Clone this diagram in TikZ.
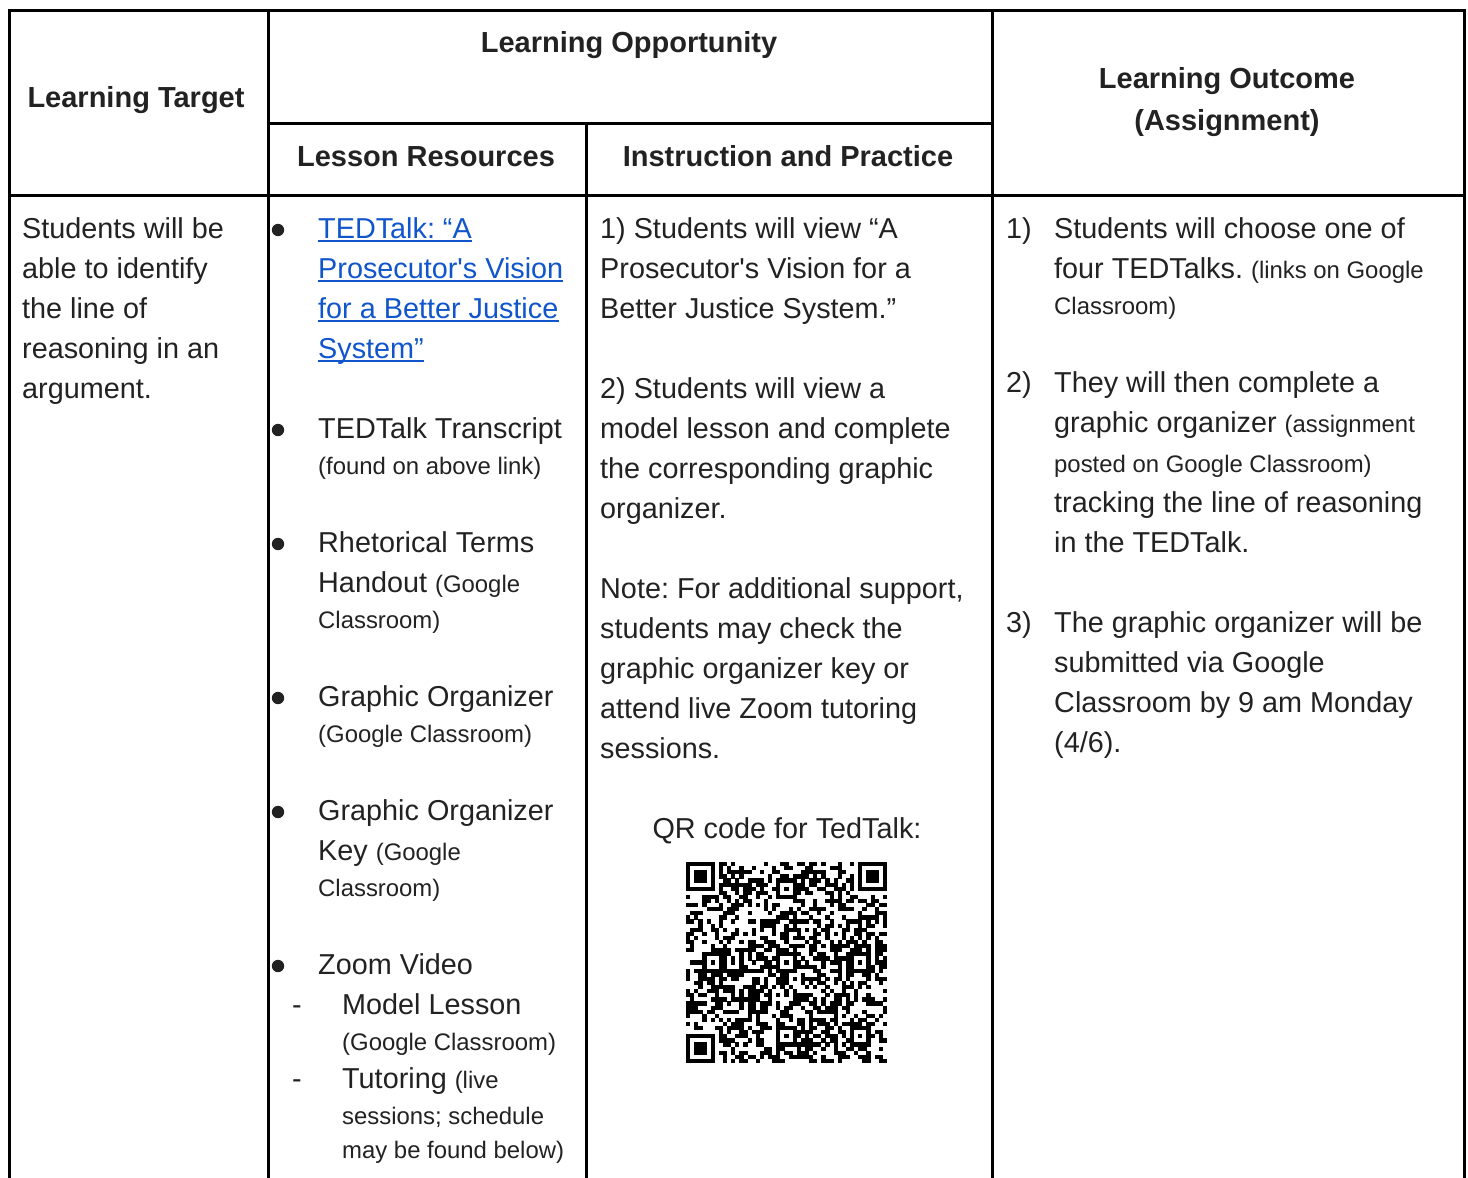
\documentclass[tikz,border=0pt]{standalone}
\usepackage{fontspec}
\setmainfont{Liberation Sans}
\definecolor{txt}{HTML}{222222}
\definecolor{linkblue}{HTML}{1155CC}
\newcommand{\sm}[1]{{\fontsize{23.9}{28}\selectfont #1}}

\begin{document}
\frenchspacing
\begin{tikzpicture}[x=1pt,y=-1pt,
            rule/.style={line width=3pt,black,line join=miter},
            head/.style={anchor=base,inner sep=0pt,
                font=\bfseries\fontsize{29}{34}\selectfont,text=txt},
            body/.style={anchor=base west,inner sep=0pt,
                font=\fontsize{28.8}{34}\selectfont,text=txt},
            note/.style={body,font=\fontsize{23.9}{28}\selectfont},
            link/.style={body,text=linkblue},
            qr/.style={fill=black}]
            \useasboundingbox (0,0) rectangle (1468,1178);
            \fill[white] (0,0) rectangle (1468,1178);

            % table rules
            \draw[rule] (9,1178) -- (9,10) -- (1464,10) -- (1464,1178);
            \draw[rule] (268,10) -- (268,1178);
            \draw[rule] (992,10) -- (992,1178);
            \draw[rule] (586,123) -- (586,1178);
            \draw[rule] (268,123) -- (992,123);
            \draw[rule] (9,195) -- (1464,195);

            % header
            \node[head] (target) at (136,107) {Learning Target};
            \node[head] (opportunity) at (629,52) {Learning Opportunity};
            \node[head] (resources) at (426,166) {Lesson Resources};
            \node[head] (practice) at (788,166) {Instruction and Practice};
            \node[head] (outcome) at (1227,88) {Learning Outcome};
            \node[head] (assignment) at (1227,130) {(Assignment)};

            % learning target
            \node[body] (tgt1) at (22,238) {Students will be};
            \node[body] (tgt2) at (22,278) {able to identify};
            \node[body] (tgt3) at (22,318) {the line of};
            \node[body] (tgt4) at (22,358) {reasoning in an};
            \node[body] (tgt5) at (22,398) {argument.};

            % lesson resources
            \foreach \y in {230,430,544,698,812,966}
                \fill[txt] (278,\y) circle (6.2);
            \node[link] (ted1) at (318,238) {TEDTalk: “A};
            \node[link] (ted2) at (318,278) {Prosecutor\textquotesingle s Vision};
            \node[link] (ted3) at (318,318) {for a Better Justice};
            \node[link] (ted4) at (318,358) {System”};
            \foreach \n in {ted1,ted2,ted3,ted4}
                \draw[linkblue,line width=1.6pt] ([yshift=-3pt]\n.base west) -- ([yshift=-3pt]\n.base east);
            \node[body] (res1) at (318,438) {TEDTalk Transcript};
            \node[note] (res2) at (318,474) {(found on above link)};
            \node[body] (res3) at (318,552) {Rhetorical Terms};
            \node[body] (res4) at (318,592) {Handout \sm{(Google}};
            \node[note] (res5) at (318,628) {Classroom)};
            \node[body] (res6) at (318,706) {Graphic Organizer};
            \node[note] (res7) at (318,742) {(Google Classroom)};
            \node[body] (res8) at (318,820) {Graphic Organizer};
            \node[body] (res9) at (318,860) {Key \sm{(Google}};
            \node[note] (res10) at (318,896) {Classroom)};
            \node[body] (res11) at (318,974) {Zoom Video};
            \node[body] (dash1) at (292,1014) {-};
            \node[body] (res12) at (342,1014) {Model Lesson};
            \node[note] (res13) at (342,1050) {(Google Classroom)};
            \node[body] (dash2) at (292,1088) {-};
            \node[body] (res14) at (342,1088) {Tutoring \sm{(live}};
            \node[note] (res15) at (342,1124) {sessions; schedule};
            \node[note] (res16) at (342,1158) {may be found below)};

            % instruction and practice
            \node[body] (ins1) at (600,238) {1) Students will view “A};
            \node[body] (ins2) at (600,278) {Prosecutor\textquotesingle s Vision for a};
            \node[body] (ins3) at (600,318) {Better Justice System.”};
            \node[body] (ins4) at (600,398) {2) Students will view a};
            \node[body] (ins5) at (600,438) {model lesson and complete};
            \node[body] (ins6) at (600,478) {the corresponding graphic};
            \node[body] (ins7) at (600,518) {organizer.};
            \node[body] (ins8) at (600,598) {Note: For additional support,};
            \node[body] (ins9) at (600,638) {students may check the};
            \node[body] (ins10) at (600,678) {graphic organizer key or};
            \node[body] (ins11) at (600,718) {attend live Zoom tutoring};
            \node[body] (ins12) at (600,758) {sessions.};
            \node[body,anchor=base] (qrlabel) at (787,838) {QR code for TedTalk:};

            % qr code
            \pgfmathsetseed{1468}
            \foreach \i in {0,...,48}{
                \foreach \j in {0,...,48}{
                    \pgfmathtruncatemacro\qrzone{((\i<8)&&(\j<8))||((\i>40)&&(\j<8))||((\i<8)&&(\j>40))}
                    \pgfmathtruncatemacro\qron{rnd<0.5}
                    \ifnum\qrzone=0 \ifnum\qron=1
                        \fill[qr] ({686+\i*4.1},{862+\j*4.1}) rectangle ++(4.2,4.2);
                    \fi\fi
                }
            }
            \foreach \fx/\fy in {0/0,42/0,0/42}{
                \fill[qr] ({686+\fx*4.1},{862+\fy*4.1}) rectangle ++(28.7,28.7);
                \fill[white] ({686+(\fx+1)*4.1},{862+(\fy+1)*4.1}) rectangle ++(20.5,20.5);
                \fill[qr] ({686+(\fx+2)*4.1},{862+(\fy+2)*4.1}) rectangle ++(12.3,12.3);
            }
            \foreach \ax/\ay in {6/24,24/6,24/24,24/42,42/24,42/42}{
                \fill[qr] ({686+(\ax-2)*4.1},{862+(\ay-2)*4.1}) rectangle ++(20.5,20.5);
                \fill[white] ({686+(\ax-1)*4.1},{862+(\ay-1)*4.1}) rectangle ++(12.3,12.3);
                \fill[qr] ({686+\ax*4.1},{862+\ay*4.1}) rectangle ++(4.1,4.1);
            }

            % learning outcome
            \node[body] (num1) at (1006,238) {1)};
            \node[body] (out1) at (1054,238) {Students will choose one of};
            \node[body] (out2) at (1054,278) {four TEDTalks. \sm{(links on Google}};
            \node[note] (out3) at (1054,314) {Classroom)};
            \node[body] (num2) at (1006,392) {2)};
            \node[body] (out4) at (1054,392) {They will then complete a};
            \node[body] (out5) at (1054,432) {graphic organizer \sm{(assignment}};
            \node[note] (out6) at (1054,472) {posted on Google Classroom)};
            \node[body] (out7) at (1054,512) {tracking the line of reasoning};
            \node[body] (out8) at (1054,552) {in the TEDTalk.};
            \node[body] (num3) at (1006,632) {3)};
            \node[body] (out9) at (1054,632) {The graphic organizer will be};
            \node[body] (out10) at (1054,672) {submitted via Google};
            \node[body] (out11) at (1054,712) {Classroom by 9 am Monday};
            \node[body] (out12) at (1054,752) {(4/6).};
        \end{tikzpicture}
\end{document}
